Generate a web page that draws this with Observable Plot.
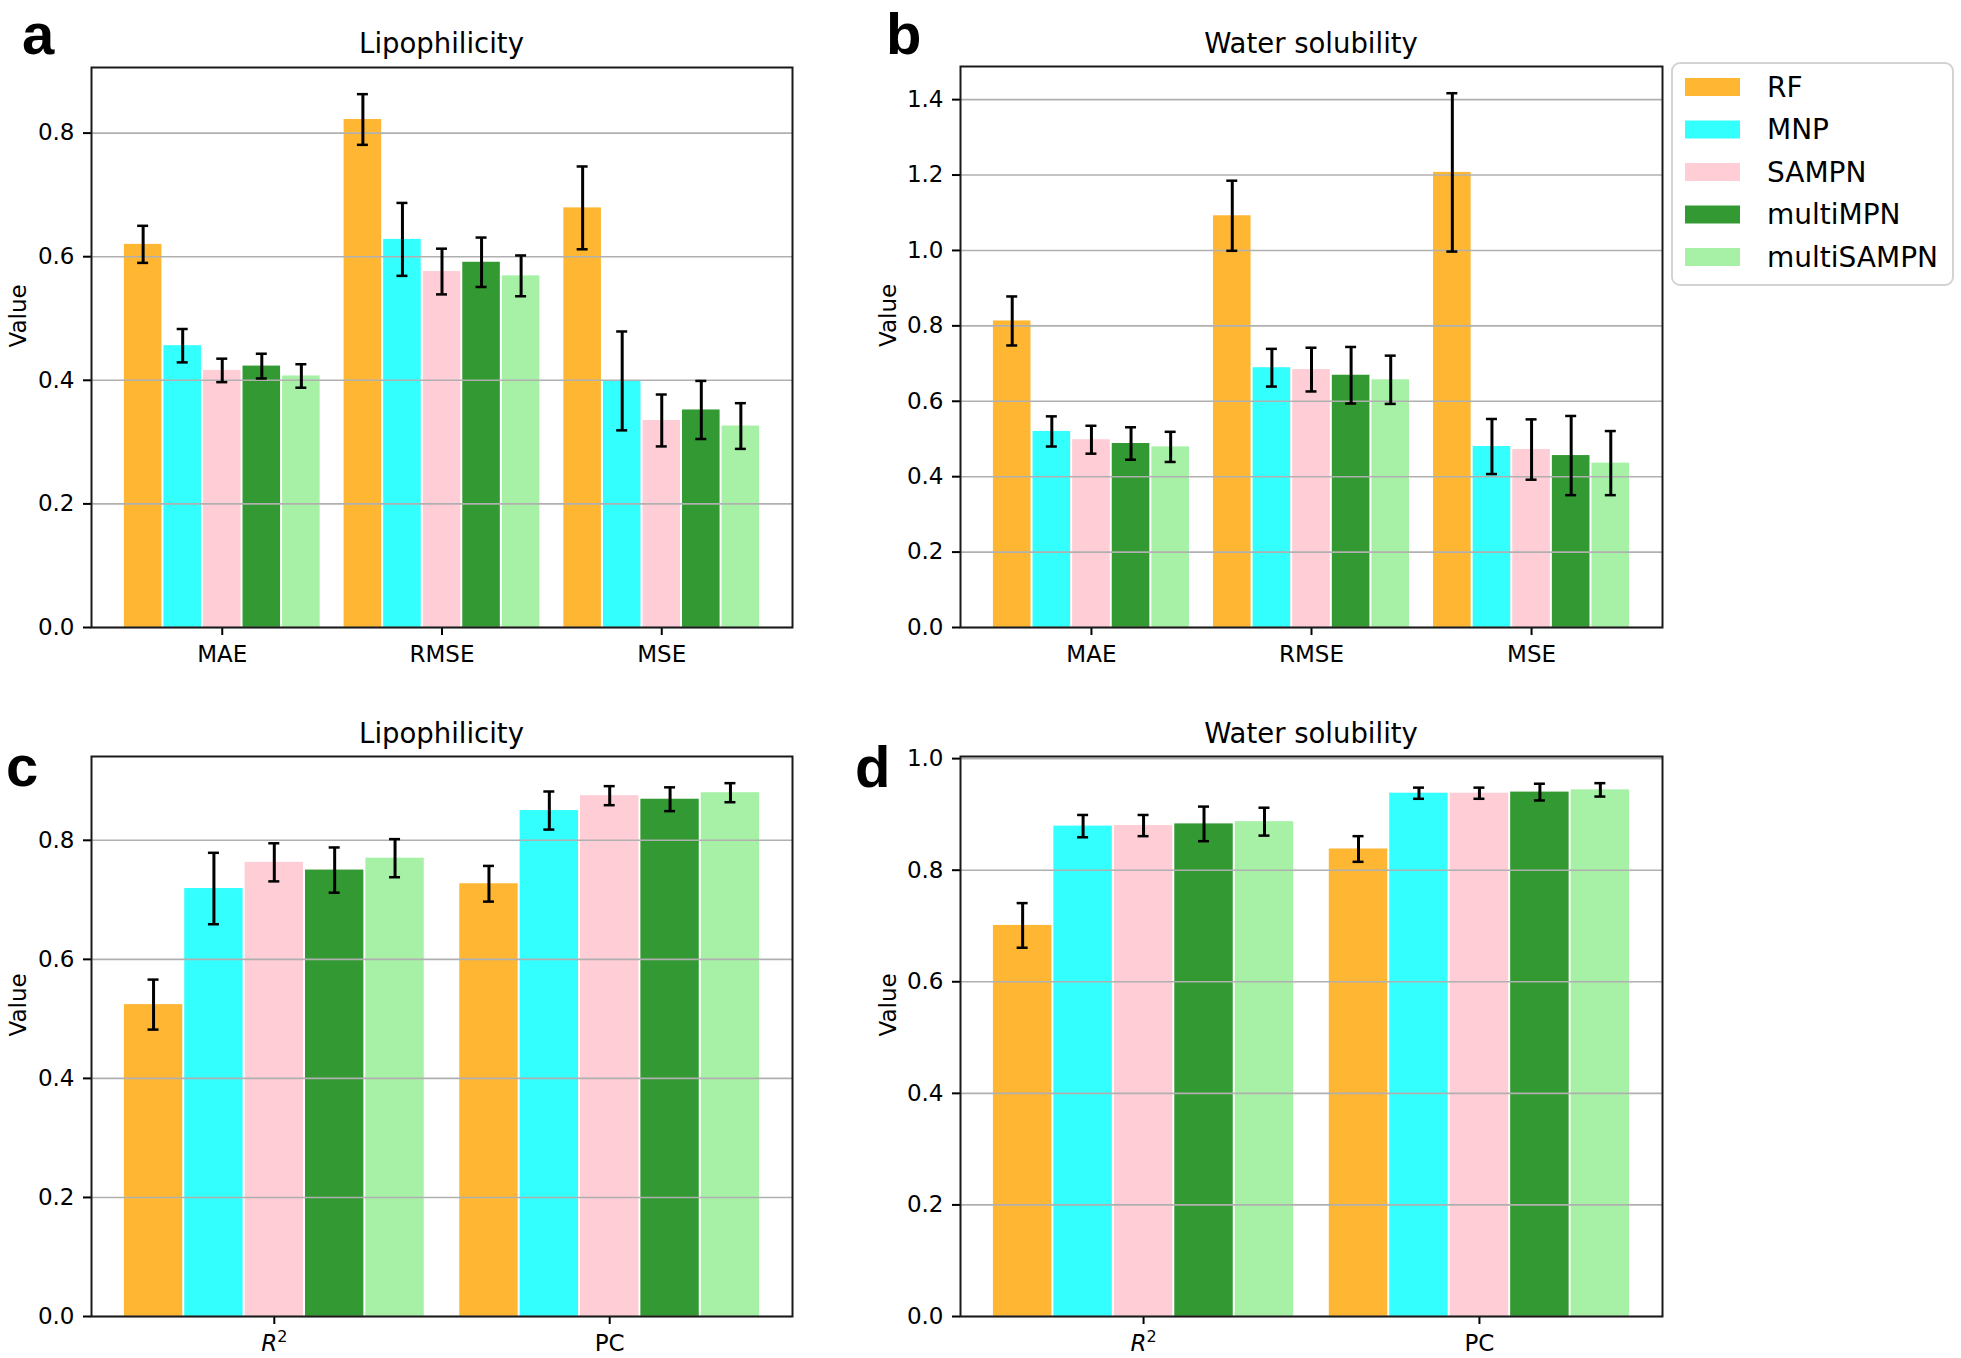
<!DOCTYPE html>
<html>
<head>
<meta charset="utf-8">
<script src="https://cdn.jsdelivr.net/npm/d3@7"></script>
<script src="https://cdn.jsdelivr.net/npm/@observablehq/plot@0.6"></script>
<style>
  body { margin: 0; background: #fff; }
  #root { position: relative; width: 1961px; height: 1358px; background: #fff; overflow: hidden; }
  .panel { position: absolute; }
  #overlay { position: absolute; left: 0; top: 0; pointer-events: none; }
</style>
</head>
<body>
<div id="root"></div>
<script>
// ---------- data ----------
const models = ["RF", "MNP", "SAMPN", "multiMPN", "multiSAMPN"];
const modelColors = ["#FFB733", "#33FFFF", "#FFCDD5", "#339933", "#A6F1A6"];
const metricsTop = ["MAE", "RMSE", "MSE"];
const metricsBottom = ["R2", "PC"];
const panelTitles = ["Lipophilicity", "Water solubility", "Lipophilicity", "Water solubility"];
const panelLetters = ["a", "b", "c", "d"];

// Lipophilicity (panel a)
const lipoMAE = [0.620, 0.456, 0.416, 0.423, 0.407];
const lipoMAEErr = [0.030, 0.027, 0.019, 0.020, 0.019];
const lipoRMSE = [0.822, 0.628, 0.576, 0.591, 0.569];
const lipoRMSEErr = [0.041, 0.059, 0.037, 0.040, 0.033];
const lipoMSE = [0.679, 0.399, 0.335, 0.352, 0.326];
const lipoMSEErr = [0.067, 0.080, 0.042, 0.047, 0.037];

// Water solubility (panel b)
const waterMAE = [0.813, 0.520, 0.498, 0.488, 0.479];
const waterMAEErr = [0.065, 0.040, 0.037, 0.043, 0.040];
const waterRMSE = [1.092, 0.689, 0.684, 0.669, 0.657];
const waterRMSEErr = [0.093, 0.050, 0.058, 0.075, 0.064];
const waterMSE = [1.207, 0.480, 0.472, 0.456, 0.436];
const waterMSEErr = [0.210, 0.073, 0.080, 0.105, 0.085];

// Lipophilicity (panel c)
const lipoR2 = [0.524, 0.719, 0.763, 0.750, 0.770];
const lipoR2Err = [0.042, 0.060, 0.032, 0.038, 0.032];
const lipoPC = [0.727, 0.850, 0.875, 0.869, 0.880];
const lipoPCErr = [0.030, 0.032, 0.016, 0.020, 0.016];

// Water solubility (panel d)
const waterR2 = [0.701, 0.879, 0.880, 0.883, 0.887];
const waterR2Err = [0.040, 0.020, 0.019, 0.031, 0.025];
const waterPC = [0.838, 0.938, 0.938, 0.940, 0.944];
const waterPCErr = [0.023, 0.010, 0.010, 0.015, 0.012];

// ---------- helpers ----------
function rows(metrics, means, errs) {
  const out = [];
  metrics.forEach((m, gi) => models.forEach((model, mi) => {
    out.push({metric: m, gi, model, mi, value: means[gi][mi], err: errs[gi][mi]});
  }));
  return out;
}

const barW = 0.18;

function makePanel({data, metrics, width, height, ml, mr, mt, mb, labelDx}) {
  const n = metrics.length;
  const lo = -2.5 * barW, hi = (n - 1) + 2.5 * barW;
  const pad = 0.05 * (hi - lo);
  const xDomain = [lo - pad, hi + pad];
  const pxPerUnit = (width - ml - mr) / (xDomain[1] - xDomain[0]);
  const cap = 5.5 / pxPerUnit;
  const xc = d => d.gi + (d.mi - 2) * barW;
  const yMax = d3.max(data, d => d.value + d.err) * 1.05;
  const nt = Math.floor(yMax / 0.2 + 1e-9);
  const yTicks = d3.range(0, nt + 1).map(i => +(i * 0.2).toFixed(1));

  const svg = Plot.plot({
    width, height,
    marginLeft: ml, marginRight: mr, marginTop: mt, marginBottom: mb,
    style: {fontFamily: "'DejaVu Sans', sans-serif", fontSize: "23px", background: "transparent", color: "#000", overflow: "visible"},
    x: {domain: xDomain, axis: null},
    y: {domain: [0, yMax], axis: null},
    color: {domain: models, range: modelColors},
    marks: [
      Plot.rectY(data, {x1: d => xc(d) - barW / 2, x2: d => xc(d) + barW / 2, y1: 0, y2: "value", fill: "model", insetLeft: 1, insetRight: 1}),
      Plot.gridY(yTicks, {stroke: "#b0b0b0", strokeOpacity: 1, strokeWidth: 1.6}),
      Plot.ruleX(data, {x: xc, y1: d => d.value - d.err, y2: d => d.value + d.err, stroke: "#000", strokeWidth: 3}),
      Plot.ruleY(data, {y: d => d.value + d.err, x1: d => xc(d) - cap, x2: d => xc(d) + cap, stroke: "#000", strokeWidth: 2.5}),
      Plot.ruleY(data, {y: d => d.value - d.err, x1: d => xc(d) - cap, x2: d => xc(d) + cap, stroke: "#000", strokeWidth: 2.5}),
      Plot.axisY({ticks: yTicks, tickFormat: d3.format(".1f"), tickSize: 8, tickPadding: 9, label: null, strokeWidth: 2}),
      Plot.axisX({ticks: d3.range(n), tickFormat: i => metrics[i], tickSize: 8, tickPadding: 10, label: null, strokeWidth: 2}),
      Plot.frame({stroke: "#1a1a1a", strokeWidth: 2}),
      Plot.text(["Value"], {text: d => d, frameAnchor: "left", dx: labelDx, rotate: -90, fontSize: 23, fill: "#000"})
    ]
  });

  // R^2 tick label with italic R and superscript 2
  d3.select(svg).selectAll("text").filter(function() { return this.textContent === "R2"; }).each(function() {
    const t = d3.select(this);
    t.text("");
    t.append("tspan").attr("font-style", "italic").text("R");
    t.append("tspan").attr("font-size", "16px").attr("dy", "-0.55em").text("2");
  });
  return svg;
}

// ---------- build ----------
const root = document.getElementById("root");

const panels = [
  {left: 0, top: 0, data: rows(metricsTop, [lipoMAE, lipoRMSE, lipoMSE], [lipoMAEErr, lipoRMSEErr, lipoMSEErr]), metrics: metricsTop,
   width: 800, height: 700, ml: 91, mr: 8, mt: 67, mb: 73, labelDx: -73},
  {left: 860, top: 0, data: rows(metricsTop, [waterMAE, waterRMSE, waterMSE], [waterMAEErr, waterRMSEErr, waterMSEErr]), metrics: metricsTop,
   width: 810, height: 700, ml: 100, mr: 8, mt: 66, mb: 73, labelDx: -72},
  {left: 0, top: 690, data: rows(metricsBottom, [lipoR2, lipoPC], [lipoR2Err, lipoPCErr]), metrics: metricsBottom,
   width: 800, height: 668, ml: 91, mr: 8, mt: 66, mb: 42, labelDx: -73},
  {left: 860, top: 690, data: rows(metricsBottom, [waterR2, waterPC], [waterR2Err, waterPCErr]), metrics: metricsBottom,
   width: 810, height: 668, ml: 100, mr: 8, mt: 66, mb: 42, labelDx: -72}
];

panels.forEach(p => {
  const div = document.createElement("div");
  div.className = "panel";
  div.style.left = p.left + "px";
  div.style.top = p.top + "px";
  div.appendChild(makePanel(p));
  root.appendChild(div);
});

// ---------- overlay: titles, panel letters, legend ----------
const ov = d3.select(root).append("svg")
  .attr("id", "overlay").attr("width", 1961).attr("height", 1358);

const titlePos = [[441.5, 53], [1311, 53], [441.5, 743], [1311, 743]];
ov.selectAll("text.title").data(panelTitles).join("text")
  .attr("class", "title")
  .attr("x", (d, i) => titlePos[i][0]).attr("y", (d, i) => titlePos[i][1])
  .attr("text-anchor", "middle")
  .attr("font-family", "'DejaVu Sans', sans-serif").attr("font-size", 27.5).attr("fill", "#000")
  .text(d => d);

const letterPos = [[22, 54], [886, 54], [6, 786], [855, 787]];
ov.selectAll("text.letter").data(panelLetters).join("text")
  .attr("class", "letter")
  .attr("x", (d, i) => letterPos[i][0]).attr("y", (d, i) => letterPos[i][1])
  .attr("font-family", "'Liberation Sans', Arial, sans-serif").attr("font-weight", "bold").attr("font-size", 58).attr("fill", "#000")
  .text(d => d);

const lg = ov.append("g").attr("transform", "translate(1672,63)");
lg.append("rect").attr("x", 0).attr("y", 0).attr("width", 281).attr("height", 222).attr("rx", 8)
  .attr("fill", "#fff").attr("stroke", "#d3d3d3").attr("stroke-width", 2);
const rowsG = lg.selectAll("g.item").data(models).join("g")
  .attr("class", "item")
  .attr("transform", (d, i) => `translate(0,${24 + i * 42.5})`);
rowsG.append("rect").attr("x", 13).attr("y", -9).attr("width", 55).attr("height", 18)
  .attr("fill", (d, i) => modelColors[i]);
rowsG.append("text").attr("x", 95).attr("y", 0).attr("dy", "0.35em")
  .attr("font-family", "'DejaVu Sans', sans-serif").attr("font-size", 28).attr("fill", "#000")
  .text(d => d);
</script>
</body>
</html>
